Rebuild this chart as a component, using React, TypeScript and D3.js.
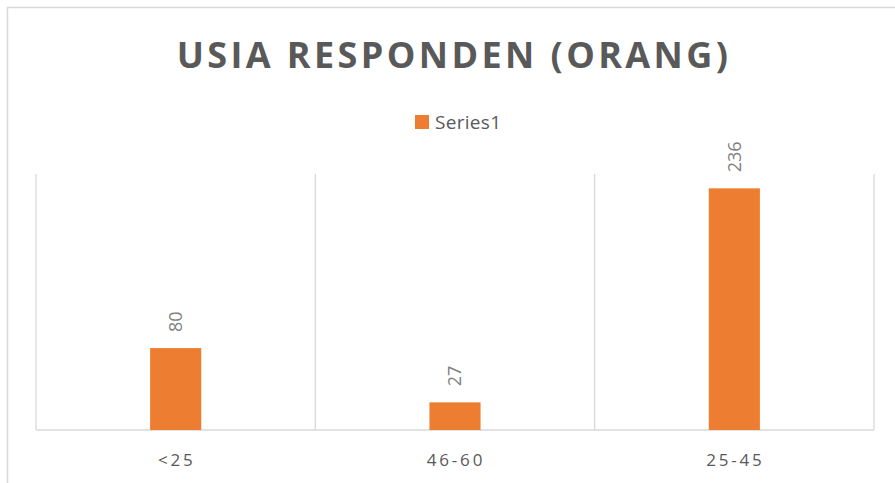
import React from 'react'
import * as d3 from 'd3'

const categories = ['<25', '46-60', '25-45']
const values = [80, 27, 236]
const seriesName = 'Series1'
const chartTitle = 'USIA RESPONDEN (ORANG)'

const W = 895
const H = 483
const margin = { top: 174, right: 21, bottom: 53, left: 36 }
const orange = '#ED7D31'
const grey = '#595959'
const font = "'Open Sans', 'Liberation Sans', sans-serif"

export default function App() {
  const plotW = W - margin.left - margin.right
  const plotH = H - margin.top - margin.bottom

  const x = d3.scaleBand<string>()
    .domain(categories)
    .range([margin.left, margin.left + plotW])
    .paddingInner(0)
    .paddingOuter(0)
  const y = d3.scaleLinear().domain([0, 250]).range([margin.top + plotH, margin.top])

  const barW = x.bandwidth() * 0.183
  const bounds = categories.map((c) => x(c) as number).concat([margin.left + plotW])

  return (
    <svg width={W} height={H} style={{ position: 'absolute', left: 0, top: 0, background: '#fff' }}>
      <rect x={7.5} y={7.5} width={W + 10} height={H + 10} fill="#fff" stroke="#D9D9D9" strokeWidth={1.5} />
      <text x={454} y={68} textAnchor="middle" fontFamily={font} fontWeight={700} fontSize={36} letterSpacing={3.4} fill={grey}>
        {chartTitle}
      </text>
      <rect x={415} y={115} width={14} height={14} fill={orange} />
      <text x={435} y={129} fontFamily={font} fontSize={19} letterSpacing={0.3} fill={grey}>{seriesName}</text>
      {bounds.map((b, i) => (
        <line key={i} x1={b} x2={b} y1={margin.top} y2={y(0)} stroke="#D9D9D9" strokeWidth={1.3} />
      ))}
      <line x1={margin.left} x2={margin.left + plotW} y1={y(0)} y2={y(0)} stroke="#D9D9D9" strokeWidth={1.3} />
      {categories.map((c, i) => {
        const cx = (x(c) as number) + x.bandwidth() / 2
        return (
          <g key={c}>
            <rect x={cx - barW / 2} y={y(values[i])} width={barW} height={y(0) - y(values[i])} fill={orange} />
            <text
              transform={`translate(${cx},${y(values[i]) - 16}) rotate(-90)`}
              dy="0.35em"
              fontFamily={font}
              fontSize={18}
              fill="#7F7F7F"
            >
              {values[i]}
            </text>
            <text x={cx + 1} y={466} textAnchor="middle" fontFamily={font} fontSize={17} letterSpacing={2.8} fill={grey}>
              {c}
            </text>
          </g>
        )
      })}
    </svg>
  )
}
